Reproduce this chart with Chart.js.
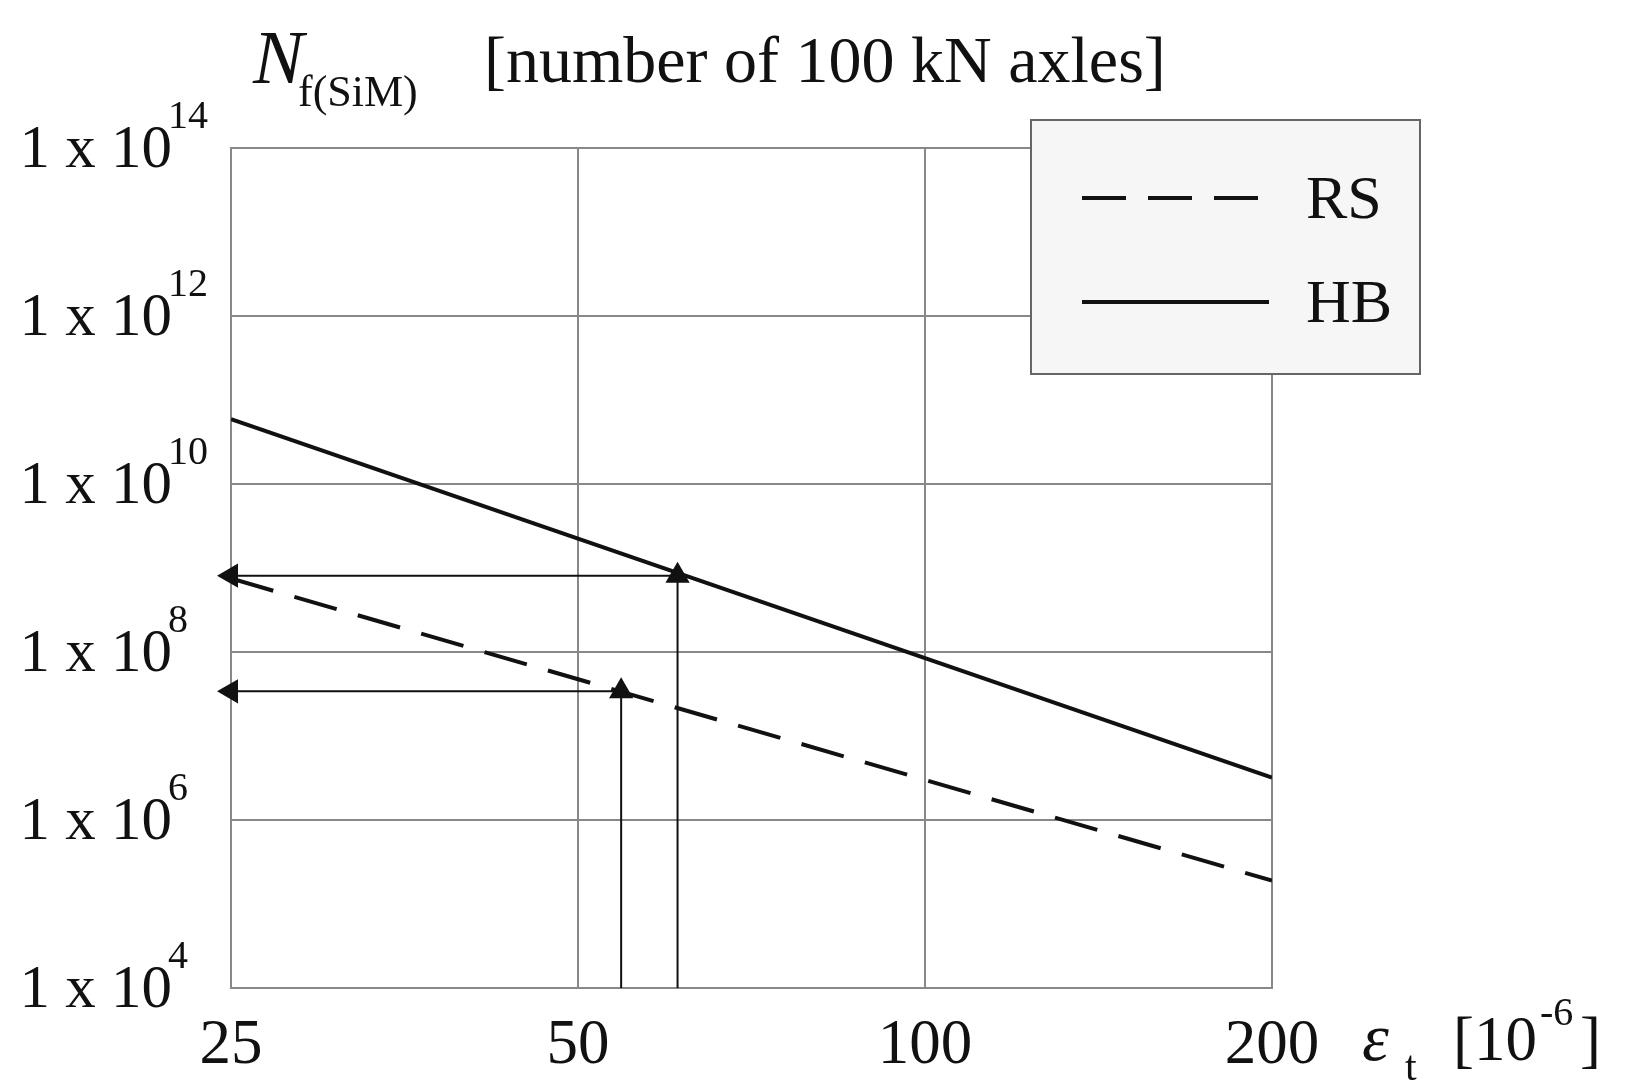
<!DOCTYPE html>
<html><head><meta charset="utf-8">
<script src="https://cdn.jsdelivr.net/npm/chart.js@4"></script>
<style>html,body{margin:0;padding:0;background:#fff}canvas{display:block}</style>
</head><body>
<div style="width:1630px;height:1089px"><canvas id="c"></canvas></div>
<script>
const strainX = [25, 200];
const hbValues = [5.9e10, 3.2e6];
const rsValues = [7.5e8, 1.9e5];
const arrowHBx = [61, 61, 25];
const arrowHBy = [1e4, 8.1e8, 8.1e8];
const arrowRSx = [54.5, 54.5, 25];
const arrowRSy = [1e4, 3.4e7, 3.4e7];
const xTicks = [25, 50, 100, 200];
const yExponents = [4, 6, 8, 10, 12, 14];
const seriesNames = ['RS', 'HB'];

const pts = (xs, ys) => xs.map((x, i) => ({x, y: ys[i]}));
const SERIF = '"Liberation Serif", "DejaVu Serif", serif';

const textPlugin = {
  id: 'texts',
  afterDraw(chart) {
    const {ctx, scales: {x, y}} = chart;
    ctx.save();
    ctx.fillStyle = '#111';
    yExponents.forEach(e => {
      const py = y.getPixelForValue(Math.pow(10, e));
      ctx.font = '61px ' + SERIF;
      ctx.textAlign = 'right'; ctx.textBaseline = 'alphabetic';
      ctx.fillText('1 x 10', 172, py + 19);
      ctx.font = '40px ' + SERIF; ctx.textAlign = 'left';
      ctx.fillText(String(e), 168, py - 20);
    });
    ctx.font = '63px ' + SERIF; ctx.textAlign = 'center';
    xTicks.forEach(v => ctx.fillText(String(v), x.getPixelForValue(v), 1063));
    ctx.textAlign = 'left';
    ctx.font = 'italic 68px ' + SERIF; ctx.fillText('ε', 1362, 1060);
    ctx.font = '42px ' + SERIF; ctx.fillText('t', 1405, 1080);
    ctx.font = '63px ' + SERIF; ctx.fillText('[10', 1453, 1060);
    ctx.font = '40px ' + SERIF; ctx.fillText('-6', 1540, 1025);
    ctx.font = '63px ' + SERIF; ctx.fillText(']', 1580, 1060);
    ctx.font = 'italic 76px ' + SERIF; ctx.fillText('N', 253, 83);
    ctx.font = '44px ' + SERIF; ctx.fillText('f(SiM)', 298, 106);
    ctx.font = '66px ' + SERIF; ctx.fillText('[number of 100 kN axles]', 484, 82);
    ctx.fillStyle = '#f6f6f6'; ctx.fillRect(1031, 120, 389, 254);
    ctx.strokeStyle = '#666'; ctx.lineWidth = 2; ctx.strokeRect(1031, 120, 389, 254);
    ctx.strokeStyle = '#111'; ctx.lineWidth = 4;
    ctx.setLineDash([44, 22]);
    ctx.beginPath(); ctx.moveTo(1082, 198); ctx.lineTo(1272, 198); ctx.stroke();
    ctx.setLineDash([]);
    ctx.beginPath(); ctx.moveTo(1082, 302); ctx.lineTo(1269, 302); ctx.stroke();
    ctx.fillStyle = '#111'; ctx.font = '62px ' + SERIF;
    ctx.fillText(seriesNames[0], 1306, 218);
    ctx.fillText(seriesNames[1], 1306, 322);
    ctx.restore();
  }
};

const arrowDs = (data) => ({
  data, showLine: true, borderColor: '#111', backgroundColor: '#111', borderWidth: 2,
  pointStyle: 'triangle', pointRadius: [0, 14, 14], pointRotation: [0, 0, -90],
  pointBorderWidth: 0, pointHoverRadius: 0, clip: false
});

new Chart(document.getElementById('c'), {
  type: 'scatter',
  data: {
    datasets: [
      {label: 'RS', data: pts(strainX, rsValues), showLine: true, borderColor: '#111', borderWidth: 4, borderDash: [44, 22], pointRadius: 0},
      {label: 'HB', data: pts(strainX, hbValues), showLine: true, borderColor: '#111', borderWidth: 4, pointRadius: 0},
      arrowDs(pts(arrowHBx, arrowHBy)),
      arrowDs(pts(arrowRSx, arrowRSy))
    ]
  },
  options: {
    responsive: true, maintainAspectRatio: false, animation: false,
    layout: {padding: {left: 0, top: 148, right: 358, bottom: 0}},
    plugins: {legend: {display: false}, tooltip: {enabled: false}},
    scales: {
      x: {type: 'logarithmic', min: 25, max: 200,
        afterBuildTicks: s => { s.ticks = xTicks.map(v => ({value: v})); },
        afterFit: s => { s.height = 101; },
        ticks: {display: false},
        grid: {color: '#888', lineWidth: 2, drawTicks: false},
        border: {color: '#888', width: 2}},
      y: {type: 'logarithmic', min: 1e4, max: 1e14,
        afterBuildTicks: s => { s.ticks = yExponents.map(e => ({value: Math.pow(10, e)})); },
        afterFit: s => { s.width = 231; },
        ticks: {display: false},
        grid: {color: '#888', lineWidth: 2, drawTicks: false},
        border: {color: '#888', width: 2}}
    }
  },
  plugins: [textPlugin]
});
</script></body></html>
